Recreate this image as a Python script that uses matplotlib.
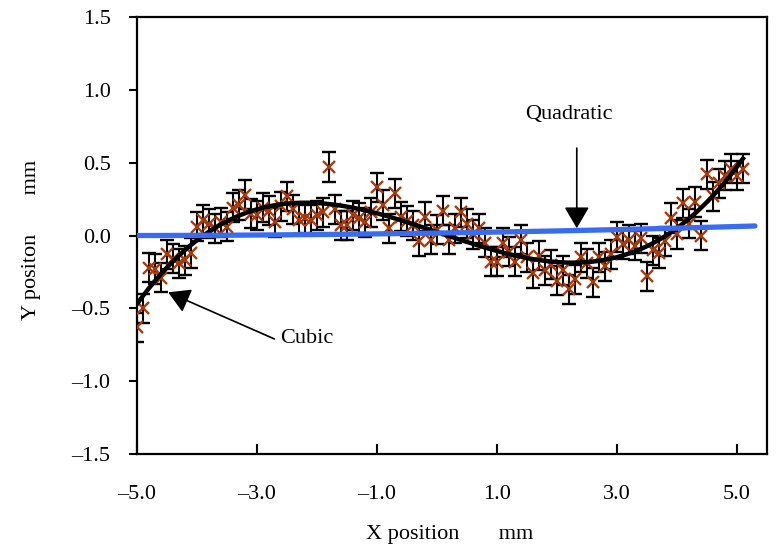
import numpy as np
import matplotlib
matplotlib.use('Agg')
import matplotlib.pyplot as plt
from matplotlib.ticker import FuncFormatter

# measured Y position at each X position (mm), error bar +/-0.1 mm
x_pos = np.round(np.arange(-5.0, 5.15, 0.1), 1)
y_pos = [-0.63, -0.50, -0.22, -0.23, -0.29, -0.13, -0.16, -0.19, -0.17, -0.12,
         0.06, 0.11, 0.08, 0.05, 0.09, 0.06, 0.19, 0.21, 0.28, 0.15,
         0.14, 0.19, 0.17, 0.09, 0.20, 0.27, 0.18, 0.11, 0.12, 0.11,
         0.14, 0.16, 0.47, 0.18, 0.07, 0.07, 0.14, 0.12, 0.09, 0.16,
         0.33, 0.21, 0.05, 0.29, 0.13, 0.10, 0.07, -0.04, 0.13, -0.03,
         0.04, 0.17, -0.03, 0.05, 0.16, 0.08, 0.01, 0.05, -0.05, -0.18,
         -0.18, -0.05, -0.11, -0.18, -0.03, -0.15, -0.26, -0.14, -0.24, -0.20,
         -0.31, -0.24, -0.37, -0.30, -0.15, -0.19, -0.32, -0.15, -0.21, -0.13,
         -0.01, -0.06, -0.03, -0.07, -0.02, -0.28, -0.10, -0.12, -0.04, 0.12,
         0.01, 0.22, 0.08, 0.23, 0.00, 0.42, 0.27, 0.36, 0.41, 0.46,
         0.41, 0.46]
y_err = 0.1

# quadratic trend line as drawn (c2, c1, c0) and its x span
quad_coef = [0.00056, 0.0062, 0.017]
quad_span = [-5.0, 5.3]

plt.rcParams['font.family'] = 'Liberation Serif'
plt.rcParams['font.size'] = 16

fig = plt.figure(figsize=(7.77, 5.51), dpi=100)
ax = fig.add_axes([0.1763, 0.176, 0.8108, 0.7931])

ax.errorbar(x_pos, y_pos, yerr=y_err, fmt='x', color='#A63C0A', ecolor='black',
            elinewidth=1.5, capsize=5, capthick=1.5, markersize=8, mew=1.7, zorder=3)

# cubic fit of the measurements
cubic = np.polyfit(x_pos, y_pos, 3)
xc = np.linspace(x_pos[0], x_pos[-1], 300)
ax.plot(xc, np.polyval(cubic, xc), color='black', lw=3.2, zorder=4)

xq = np.linspace(quad_span[0], quad_span[1], 100)
ax.plot(xq, np.polyval(quad_coef, xq), color='#3A6CF0', lw=3.8, zorder=5,
        solid_capstyle='round')

arrow = dict(arrowstyle='-|>,head_length=0.6,head_width=0.35', mutation_scale=22,
             color='black', lw=1.2, shrinkA=0, shrinkB=0)
ax.annotate('', xy=(2.33, 0.05), xytext=(2.33, 0.60), arrowprops=arrow, zorder=6)
ax.text(2.19, 0.83, 'Quadratic', ha='center', va='center')
ax.annotate('', xy=(-4.48, -0.39), xytext=(-2.71, -0.71), arrowprops=arrow, zorder=6)
ax.text(-2.62, -0.71, 'Cubic', ha='left', va='center')

ax.set_xlim(-5.0, 5.5)
ax.set_ylim(-1.5, 1.5)
ax.set_xticks([-5, -3, -1, 1, 3, 5])
ax.set_yticks([-1.5, -1.0, -0.5, 0.0, 0.5, 1.0, 1.5])
fmt = FuncFormatter(lambda v, p: ('%.1f' % v).replace('-', '\u2013'))
ax.xaxis.set_major_formatter(fmt)
ax.yaxis.set_major_formatter(fmt)
ax.tick_params(axis='x', direction='in', length=7, width=1.5, pad=22)
ax.tick_params(axis='y', direction='out', length=6, width=1.5, pad=13)
for s in ax.spines.values():
    s.set_linewidth(1.6)

ax.set_xlabel('X position       mm', va='center')
ax.set_ylabel('Y positon       mm', va='center')
ax.xaxis.set_label_coords(0.497, -0.185)
ax.yaxis.set_label_coords(-0.168, 0.49)

fig.savefig('out.png', dpi=100)
